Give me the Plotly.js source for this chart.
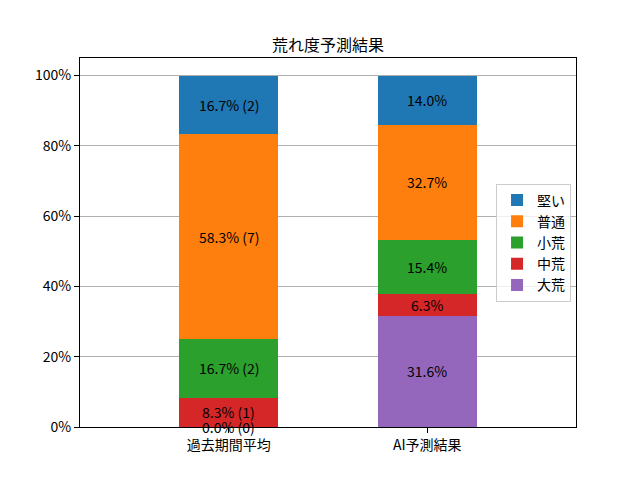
<!DOCTYPE html>
<html>
<head>
<meta charset="utf-8">
<script src="https://cdn.plot.ly/plotly-3.0.1.min.js"></script>
<style>
  html, body { margin: 0; padding: 0; background: #fff; }
  #chart { width: 640px; height: 480px; }
</style>
</head>
<body>
<div id="chart"></div>
<script>
// ── Data ──────────────────────────────────────────────────────────────────────
const groups    = ['過去期間平均', 'AI予測結果'];
const levels    = ['大荒', '中荒', '小荒', '普通', '堅い'];   // bottom → top
const pastPct   = [0.0, 8.3, 16.7, 58.3, 16.7];
const pastCount = [0, 1, 2, 7, 2];
const aiPct     = [31.6, 6.3, 15.4, 32.7, 14.0];
const yTicks    = [0, 20, 40, 60, 80, 100];
const colors    = ['#9467bd', '#d62728', '#2ca02c', '#ff7f0e', '#1f77b4'];

const FONT = "'Noto Sans CJK JP', 'DejaVu Sans', sans-serif";

// ── Traces ────────────────────────────────────────────────────────────────────
const traces = levels.map((name, i) => ({
  type: 'bar',
  name,
  x: [0, 1],
  y: [pastPct[i], aiPct[i]],
  width: 0.5,
  marker: { color: colors[i], line: { width: 0 } },
  hoverinfo: 'skip',
}));

// Segment labels at the middle of each stacked block.
const annotations = [];
let basePast = 0, baseAi = 0;
levels.forEach((_, i) => {
  annotations.push({
    x: 0, y: basePast + pastPct[i] / 2, xref: 'x', yref: 'y',
    text: `${pastPct[i].toFixed(1)}% (${pastCount[i]})`,
    showarrow: false, font: { family: FONT, size: 14, color: '#000' },
  });
  annotations.push({
    x: 1, y: baseAi + aiPct[i] / 2, xref: 'x', yref: 'y',
    text: `${aiPct[i].toFixed(1)}%`,
    showarrow: false, font: { family: FONT, size: 14, color: '#000' },
  });
  basePast += pastPct[i];
  baseAi   += aiPct[i];
});

// ── Layout ────────────────────────────────────────────────────────────────────
const layout = {
  width: 640, height: 480,
  margin: { l: 80, r: 64, t: 58, b: 53 },
  paper_bgcolor: '#fff',
  plot_bgcolor: '#fff',
  barmode: 'stack',
  font: { family: FONT, size: 14, color: '#000' },
  title: {
    text: '荒れ度予測結果',
    font: { family: FONT, size: 16, color: '#000' },
    x: 0.5, xref: 'paper', xanchor: 'center',
    y: 1, yref: 'paper', yanchor: 'bottom', pad: { b: 7 },
  },
  xaxis: {
    range: [-0.75, 1.75],
    tickmode: 'array', tickvals: [0, 1], ticktext: groups,
    showgrid: false, zeroline: false,
    showline: true, linecolor: '#000', linewidth: 1, mirror: true,
    ticks: 'outside', ticklen: 5, tickcolor: '#000',
    tickfont: { family: FONT, size: 14 },
  },
  yaxis: {
    range: [0, 105],
    tickmode: 'array', tickvals: yTicks, ticktext: yTicks.map(v => `${v}%`),
    showgrid: true, gridcolor: '#b0b0b0', gridwidth: 1,
    zeroline: false,
    showline: true, linecolor: '#000', linewidth: 1, mirror: true,
    ticks: 'outside', ticklen: 5, tickcolor: '#000',
    tickfont: { family: FONT, size: 14 },
  },
  legend: {
    x: 0.99, xanchor: 'right', y: 0.5, yanchor: 'middle',
    traceorder: 'reversed',
    bgcolor: 'rgba(255,255,255,0.8)',
    bordercolor: '#cccccc', borderwidth: 1,
    font: { family: FONT, size: 14 },
    itemwidth: 30,
  },
  annotations,
  showlegend: true,
};

Plotly.newPlot('chart', traces, layout, { displayModeBar: false, staticPlot: true });
</script>
</body>
</html>
